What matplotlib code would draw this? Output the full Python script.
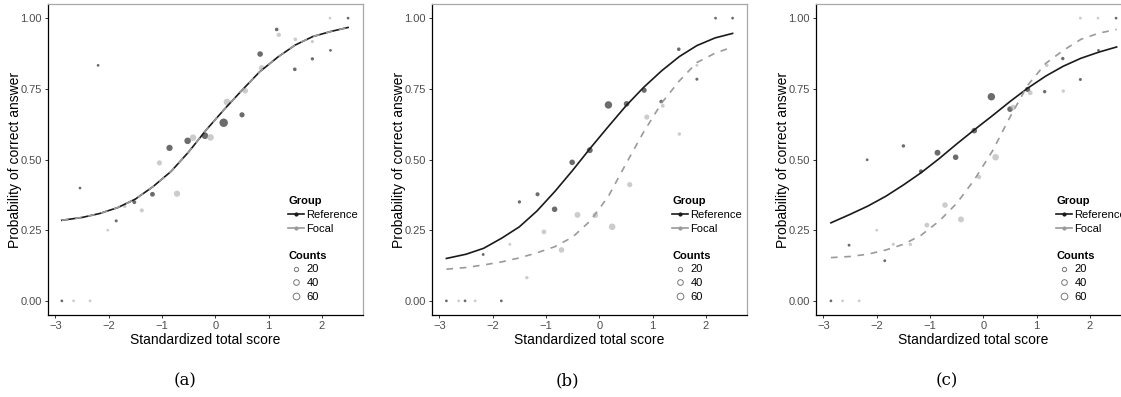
import numpy as np
import matplotlib
matplotlib.use("Agg")
import matplotlib.pyplot as plt
from matplotlib.lines import Line2D

plt.rcParams['font.family'] = ['Liberation Sans', 'DejaVu Sans']

# ---- panel (a) ----
a_ref_x = [-2.88, -2.54, -2.20, -1.86, -1.52, -1.18, -0.86, -0.52, -0.195, 0.156, 0.50, 0.84, 1.15, 1.49, 1.82, 2.16, 2.49]
a_ref_y = [0.0, 0.399, 0.833, 0.283, 0.349, 0.377, 0.541, 0.566, 0.584, 0.630, 0.658, 0.873, 0.960, 0.819, 0.856, 0.886, 1.0]
a_ref_n = [1, 1, 1, 3, 10, 20, 40, 45, 45, 80, 25, 30, 8, 8, 5, 1, 1]
a_foc_x = [-2.66, -2.35, -2.02, -1.70, -1.38, -1.05, -0.72, -0.42, -0.09, 0.22, 0.56, 0.87, 1.19, 1.50, 1.82, 2.15]
a_foc_y = [0.0, 0.0, 0.25, 0.334, 0.320, 0.488, 0.379, 0.577, 0.578, 0.703, 0.743, 0.824, 0.941, 0.925, 0.917, 1.0]
a_foc_n = [1, 1, 1, 5, 12, 25, 40, 45, 45, 50, 30, 30, 15, 8, 5, 1]
a_curve_x = [-2.88, -2.5, -2.17, -1.83, -1.5, -1.17, -0.83, -0.5, -0.17, 0.17, 0.5, 0.83, 1.17, 1.5, 1.83, 2.17, 2.49]
a_ref_curve = [0.285, 0.295, 0.309, 0.330, 0.360, 0.404, 0.458, 0.527, 0.605, 0.678, 0.745, 0.810, 0.862, 0.905, 0.935, 0.953, 0.967]
a_foc_curve = [0.285, 0.295, 0.309, 0.330, 0.360, 0.404, 0.458, 0.527, 0.605, 0.678, 0.745, 0.810, 0.862, 0.905, 0.935, 0.953, 0.967]

# ---- panel (b) ----
b_ref_x = [-2.87, -2.52, -2.18, -1.84, -1.50, -1.16, -0.84, -0.51, -0.18, 0.17, 0.51, 0.84, 1.16, 1.49, 1.83, 2.18, 2.50]
b_ref_y = [0.0, 0.0, 0.164, 0.0, 0.350, 0.377, 0.324, 0.490, 0.533, 0.693, 0.697, 0.745, 0.705, 0.890, 0.784, 1.0, 1.0]
b_ref_n = [1, 1, 2, 1, 5, 12, 30, 30, 35, 60, 30, 25, 8, 8, 3, 1, 1]
b_foc_x = [-2.64, -2.33, -1.68, -1.36, -1.04, -0.71, -0.41, -0.075, 0.24, 0.57, 0.89, 1.19, 1.50, 1.83]
b_foc_y = [0.0, 0.0, 0.200, 0.082, 0.244, 0.180, 0.304, 0.303, 0.262, 0.411, 0.650, 0.690, 0.590, 0.833]
b_foc_n = [1, 1, 2, 6, 20, 30, 35, 30, 45, 25, 25, 10, 6, 2]
b_curve_x = [-2.87, -2.5, -2.17, -1.83, -1.5, -1.17, -0.83, -0.5, -0.17, 0.17, 0.5, 0.83, 1.17, 1.5, 1.83, 2.17, 2.5]
b_ref_curve = [0.150, 0.165, 0.186, 0.222, 0.262, 0.318, 0.388, 0.462, 0.540, 0.617, 0.690, 0.755, 0.814, 0.864, 0.903, 0.930, 0.946]
b_foc_curve = [0.112, 0.118, 0.127, 0.138, 0.152, 0.170, 0.192, 0.226, 0.283, 0.370, 0.485, 0.597, 0.700, 0.778, 0.843, 0.876, 0.898]

# ---- panel (c) ----
c_ref_x = [-2.86, -2.52, -2.18, -1.85, -1.50, -1.17, -0.86, -0.52, -0.17, 0.15, 0.50, 0.83, 1.15, 1.49, 1.82, 2.16, 2.49]
c_ref_y = [0.0, 0.197, 0.499, 0.142, 0.548, 0.458, 0.524, 0.508, 0.602, 0.722, 0.678, 0.748, 0.740, 0.857, 0.783, 0.886, 1.0]
c_ref_n = [1, 2, 1, 2, 6, 12, 35, 30, 30, 60, 30, 25, 6, 6, 3, 1, 1]
c_foc_x = [-2.64, -2.33, -2.00, -1.69, -1.37, -1.06, -0.72, -0.42, -0.08, 0.23, 0.56, 0.88, 1.19, 1.50, 1.82, 2.15]
c_foc_y = [0.0, 0.0, 0.25, 0.20, 0.20, 0.268, 0.339, 0.288, 0.438, 0.508, 0.684, 0.736, 0.833, 0.742, 1.0, 1.0]
c_foc_n = [1, 1, 1, 4, 6, 20, 30, 35, 15, 45, 30, 20, 8, 6, 2, 1]
c_curve_x = [-2.86, -2.5, -2.17, -1.83, -1.5, -1.17, -0.83, -0.5, -0.17, 0.17, 0.5, 0.83, 1.17, 1.5, 1.83, 2.17, 2.5]
c_ref_curve = [0.276, 0.306, 0.335, 0.370, 0.410, 0.453, 0.503, 0.555, 0.605, 0.655, 0.705, 0.752, 0.795, 0.830, 0.858, 0.880, 0.898]
c_foc_curve = [0.153, 0.157, 0.165, 0.180, 0.200, 0.232, 0.282, 0.345, 0.428, 0.530, 0.650, 0.762, 0.840, 0.886, 0.925, 0.947, 0.960]

legend_counts = [20, 40, 60]
captions = ["(a)", "(b)", "(c)"]

REF_COL = '#1a1a1a'
FOC_COL = '#9a9a9a'


def size(n):
    # ggplot-like size scale: area grows with count, with a floor
    return 3.5 + 0.42 * np.asarray(n, dtype=float)


panels = [
    (a_ref_x, a_ref_y, a_ref_n, a_foc_x, a_foc_y, a_foc_n, a_curve_x, a_ref_curve, a_foc_curve),
    (b_ref_x, b_ref_y, b_ref_n, b_foc_x, b_foc_y, b_foc_n, b_curve_x, b_ref_curve, b_foc_curve),
    (c_ref_x, c_ref_y, c_ref_n, c_foc_x, c_foc_y, c_foc_n, c_curve_x, c_ref_curve, c_foc_curve),
]
lefts = [48, 432, 816]
cap_x = [185, 567, 947]

W, H = 1121, 397
fig = plt.figure(figsize=(W / 100, H / 100), dpi=100)

for i, p in enumerate(panels):
    rx, ry, rn, fx, fy, fn, cx, rc, fc = p
    ax = fig.add_axes([lefts[i] / W, (H - 315) / H, 315 / W, 311 / H])
    ax.scatter(rx, ry, s=size(rn), color='#333333', alpha=0.72, linewidths=0, zorder=3)
    ax.scatter(fx, fy, s=size(fn), color='#aaaaaa', alpha=0.6, linewidths=0, zorder=3)
    ax.plot(cx, rc, color=REF_COL, lw=1.2, zorder=4)
    ax.plot(cx, fc, color=FOC_COL, lw=1.2, ls=(0, (4, 4)), zorder=5)

    ax.set_xlim(-3.14, 2.77)
    ax.set_ylim(-0.05, 1.05)
    ax.set_xticks([-3, -2, -1, 0, 1, 2])
    ax.set_yticks([0, 0.25, 0.5, 0.75, 1.0])
    ax.set_yticklabels(["0.00", "0.25", "0.50", "0.75", "1.00"])
    ax.tick_params(length=2.5, width=0.7, color='#333333', labelcolor='#4d4d4d',
                   labelsize=8, pad=2)
    for sp in ['left', 'bottom']:
        ax.spines[sp].set_color('black')
        ax.spines[sp].set_linewidth(0.9)
    for sp in ['top', 'right']:
        ax.spines[sp].set_color('#a8a8a8')
        ax.spines[sp].set_linewidth(0.9)
    ax.set_xlabel("Standardized total score", fontsize=10, labelpad=1)
    ax.set_ylabel("Probability of correct answer", fontsize=10, labelpad=-1)

    grp = [Line2D([], [], color=REF_COL, lw=1.2, marker='o', ms=2),
           Line2D([], [], color=FOC_COL, lw=1.2, marker='o', ms=2)]
    leg1 = ax.legend(grp, ["Reference", "Focal"], title="Group", loc='upper left',
                     bbox_to_anchor=(0.745, 0.40), frameon=False, fontsize=8,
                     title_fontproperties={'weight': 'bold', 'size': 8},
                     alignment='left', borderpad=0, handlelength=1.4,
                     handletextpad=0.25, labelspacing=0.35)
    ax.add_artist(leg1)
    cnt = [Line2D([], [], ls='', marker='o', mfc='white', mec='#777777', mew=0.7,
                  ms=np.sqrt(size(c)) * 0.9) for c in legend_counts]
    ax.legend(cnt, [str(c) for c in legend_counts], title="Counts", loc='upper left',
              bbox_to_anchor=(0.745, 0.225), frameon=False, fontsize=8,
              title_fontproperties={'weight': 'bold', 'size': 8},
              alignment='left', borderpad=0, handlelength=1.4,
              handletextpad=0.25, labelspacing=0.35)

    fig.text(cap_x[i] / W, 1 - 381 / H, captions[i], ha='center', va='center',
             fontsize=12, family='DejaVu Serif')

fig.savefig("out.png", dpi=100)
